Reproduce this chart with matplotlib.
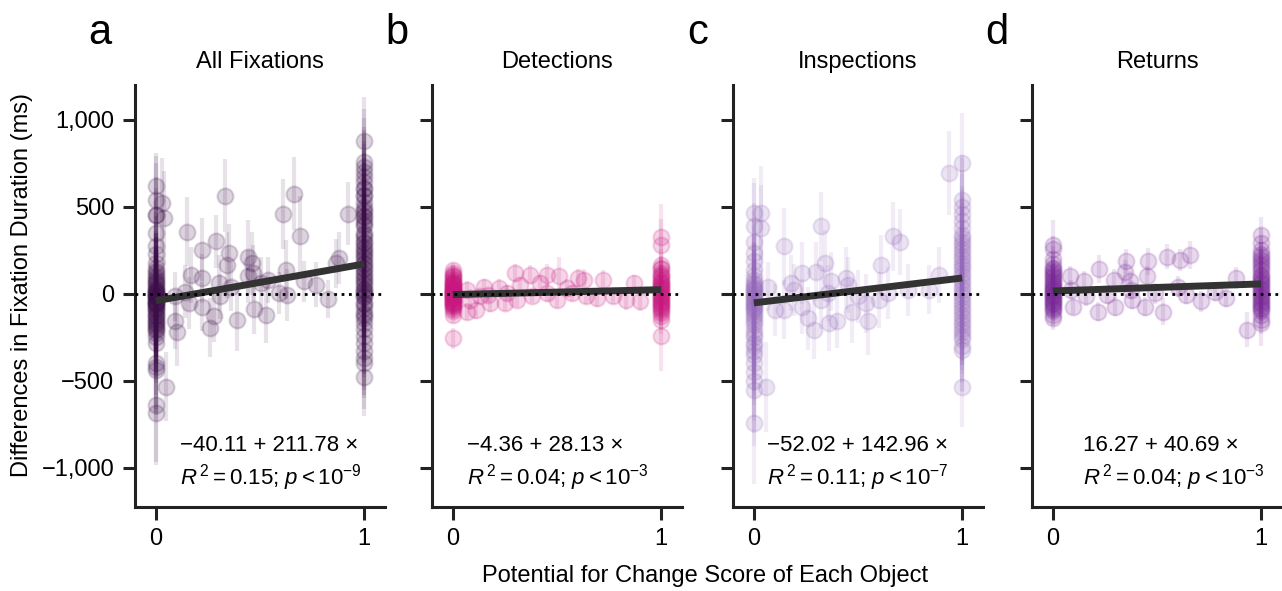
#! /usr/bin/env python3

import numpy as np
import matplotlib
matplotlib.use('Agg')
import matplotlib.pyplot as plt

# ---- data ----
titles = ['All Fixations', 'Detections', 'Inspections', 'Returns']
letters = ['a', 'b', 'c', 'd']
colors = ['#3c0d49', '#c8187f', '#9468ba', '#7a2898']
intercepts = [-40.11, -4.36, -52.02, 16.27]
slopes = [211.78, 28.13, 142.96, 40.69]
r2_text = ['0.15', '0.04', '0.11', '0.04']
p_exp = ['-9', '-3', '-7', '-3']

# All Fixations
a_x0_y = [617, 540, 454, 452, 349, 272, 230, 176, 150, 119, 100, 80, 60, 42, 30, 15, 4, -5, -15, -25,
          -34, -45, -55, -73, -90, -111, -130, -149, -170, -188, -210, -226, -250, -283, -398, -420, -437, -638, -686,
          130, 90, 70, 50, 20, 10, -10, -20, -40, -60, -65, -80, -100, -120, -140, -160, -180, -200, 5, -50]
a_x0_err = [190, 250, 220, 300, 260, 200, 180, 240, 300, 210, 260, 230, 190, 280, 320, 250, 210, 270, 230, 300,
            260, 220, 280, 240, 310, 250, 200, 270, 230, 290, 250, 220, 260, 300, 280, 240, 260, 330, 300,
            220, 260, 240, 280, 230, 250, 270, 240, 260, 230, 280, 250, 270, 240, 260, 230, 280, 250, 240, 260]
a_x1_y = [880, 760, 730, 700, 670, 640, 610, 570, 530, 500, 470, 450, 420, 390, 350, 320, 290, 260, 230, 200,
          170, 140, 110, 80, 50, 20, 0, -20, -50, -80, -110, -140, -170, -200, -240, -280, -330, -370, -400, -480,
          600, 560, 480, 440, 400, 340, 300, 270, 240, 210, 180, 150, 120, 90, 60, 30, 10, -10, -60, -120]
a_x1_err = [250, 300, 280, 260, 240, 300, 270, 250, 230, 280, 260, 240, 300, 270, 250, 230, 260, 280, 240, 270,
            250, 230, 260, 280, 240, 270, 250, 230, 260, 240, 270, 250, 230, 260, 240, 270, 250, 230, 260, 220,
            260, 250, 270, 240, 260, 250, 270, 240, 260, 250, 270, 240, 260, 250, 270, 240, 260, 250, 270, 240]
a_mid_x = [0.03, 0.04, 0.15, 0.22, 0.29, 0.33, 0.35, 0.34, 0.17, 0.22, 0.44, 0.46, 0.44, 0.61, 0.665, 0.69, 0.625,
           0.92, 0.88, 0.865, 0.77, 0.825, 0.63, 0.59, 0.53, 0.47, 0.39, 0.26, 0.28, 0.22, 0.16, 0.10, 0.09, 0.05,
           0.31, 0.305, 0.36, 0.505, 0.537, 0.71, 0.14, 0.09, 0.465]
a_mid_y = [521, 435, 358, 253, 301, 563, 234, 167, 109, 90, 214, 176, 100, 460, 575, 330, 138, 460, 205, 176,
           52, -30, -6, 4, -121, -88, -149, -194, -126, -73, -54, -222, -159, -533, -15, 61, 42, 61, 80, 71,
           13, -15, 119]
a_mid_err = [260, 270, 200, 180, 150, 210, 170, 190, 160, 140, 210, 180, 150, 200, 210, 230, 170, 180, 150, 140,
             130, 110, 150, 120, 160, 140, 180, 170, 150, 140, 150, 190, 160, 200, 130, 160, 140, 150, 130, 120,
             150, 140, 160]

# Detections
b_x0_y = [135, 110, 95, 80, 70, 60, 50, 40, 30, 22, 15, 8, 0, -8, -15, -22, -30, -40, -50, -60, -70, -85, -100,
          -120, -255,
          120, 100, 85, 65, 55, 45, 35, 25, 18, 10, 3, -3, -12, -18, -26, -35, -45, -55, -65, -78]
b_x0_err = [40, 50, 45, 40, 50, 45, 40, 35, 45, 40, 50, 45, 40, 35, 45, 50, 40, 45, 50, 40, 45, 50, 40, 45, 60,
            45, 40, 50, 45, 40, 50, 45, 40, 50, 45, 40, 50, 45, 40, 50, 45, 40, 50, 45, 40]
b_x1_y = [329, 282, 167, 140, 120, 100, 80, 65, 50, 35, 20, 5, -10, -25, -40, -55, -70, -90, -110, -130, -150, -245,
          150, 110, 90, 70, 55, 40, 25, 10, -5, -20, -35, -50, -65, -80, -100]
b_x1_err = [190, 150, 90, 80, 70, 60, 60, 55, 50, 50, 45, 50, 55, 60, 50, 55, 60, 65, 70, 75, 80, 200,
            60, 55, 60, 55, 60, 55, 60, 55, 60, 55, 60, 55, 60, 55, 60]
b_mid_x = [0.07, 0.08, 0.07, 0.15, 0.17, 0.18, 0.22, 0.25, 0.30, 0.32, 0.37, 0.38, 0.42, 0.45, 0.51, 0.50, 0.55,
           0.60, 0.63, 0.64, 0.69, 0.72, 0.77, 0.83, 0.87, 0.90, 0.31, 0.13, 0.45, 0.57, 0.11, 0.26]
b_mid_y = [23, -34, -102, 42, -6, -54, 33, -54, 119, 52, 109, -15, 61, 109, 100, -34, 33, 90, 80, -15,
           -25, 80, -15, -34, 61, -44, -34, -15, 4, 4, -92, 4]
b_mid_err = [50, 60, 50, 45, 40, 50, 55, 45, 50, 45, 55, 40, 50, 60, 110, 45, 50, 55, 60, 45,
             50, 55, 45, 60, 50, 55, 40, 45, 50, 45, 55, 45]

# Inspections
c_x0_y = [464, 387, 300, 235, 190, 138, 100, 61, 40, 20, 0, -20, -40, -60, -80, -100, -130, -160, -207, -250,
          -300, -350, -400, -450, -500, -552, -743,
          80, 50, 30, 10, -10, -30, -50, -70, -90, -115, -145, -180, -230, -280, -330]
c_x0_err = [200, 250, 220, 200, 230, 210, 240, 220, 260, 230, 250, 270, 240, 260, 280, 250, 270, 300, 280, 300,
            260, 290, 310, 280, 300, 320, 350,
            250, 240, 260, 250, 240, 260, 250, 240, 260, 250, 240, 260, 250, 240, 260]
c_x1_y = [751, 540, 500, 460, 420, 380, 340, 300, 260, 220, 180, 140, 100, 60, 20, -20, -60, -100, -140, -180,
          -220, -260, -300, -322, -533,
          320, 280, 240, 200, 160, 120, 80, 40, 0, -40, -80, -120, -160, -200, -240]
c_x1_err = [290, 260, 280, 250, 270, 240, 260, 250, 230, 260, 240, 250, 230, 260, 240, 250, 230, 240, 250, 230,
            240, 250, 260, 240, 230,
            250, 240, 260, 250, 240, 260, 250, 240, 260, 250, 240, 260, 250, 240, 260]
c_mid_x = [0.146, 0.32, 0.23, 0.30, 0.34, 0.18, 0.195, 0.37, 0.44, 0.45, 0.61, 0.67, 0.70, 0.89, 0.10, 0.146,
           0.23, 0.26, 0.29, 0.36, 0.40, 0.32, 0.356, 0.47, 0.54, 0.55, 0.50, 0.60, 0.645, 0.84, 0.74, 0.066,
           0.935, 0.035, 0.035, 0.06]
c_mid_y = [272, 387, 119, 128, 176, 61, 23, 71, 90, 52, 167, 330, 300, 109, -92, -92, -73, -140, -207, -169,
           -159, -34, 4, -102, -54, -159, -15, -34, 4, 23, 23, 42, 694, 464, 377, -534]
c_mid_err = [220, 200, 180, 170, 190, 160, 150, 170, 180, 160, 170, 200, 190, 160, 150, 170, 160, 180, 170, 160,
             150, 170, 160, 180, 170, 190, 150, 160, 150, 140, 150, 140, 240, 270, 250, 260]

# Returns
d_x0_y = [282, 260, 200, 170, 140, 120, 100, 80, 60, 45, 30, 15, 0, -15, -30, -45, -60, -80, -100, -120, -140,
          90, 70, 50, 35, 20, 8, -5, -20, -35, -50, -70, -90, 110, 130, 150]
d_x0_err = [140, 70, 75, 70, 65, 60, 70, 65, 60, 55, 60, 65, 60, 55, 60, 65, 60, 55, 60, 65, 70,
            60, 65, 60, 55, 60, 65, 60, 55, 60, 65, 60, 55, 60, 65, 60]
d_x1_y = [339, 290, 250, 220, 190, 160, 130, 100, 80, 60, 40, 20, 0, -20, -40, -60, -80, -100, -120, -150, -169,
          230, 200, 170, 140, 110, 90, 70, 50, 30, 10, -10, -30, -50, -70, -90]
d_x1_err = [100, 90, 80, 75, 70, 65, 70, 65, 60, 65, 60, 55, 60, 65, 60, 70, 65, 70, 75, 80, 130,
            65, 60, 65, 70, 65, 60, 65, 70, 65, 60, 65, 70, 65, 60, 65]
d_mid_x = [0.08, 0.087, 0.095, 0.15, 0.16, 0.22, 0.215, 0.295, 0.30, 0.35, 0.345, 0.37, 0.38, 0.455, 0.45,
           0.44, 0.53, 0.55, 0.61, 0.66, 0.60, 0.64, 0.71, 0.78, 0.83, 0.88, 0.93, 0.26, 0.49, 0.375]
d_mid_y = [100, 23, -73, 71, -15, 142, -102, 80, -73, 186, 128, 71, -34, 186, 100, -73, -102, 214, 195, 224,
           42, -6, -44, 13, -25, 90, -207, -6, 4, 23]
d_mid_err = [60, 55, 50, 60, 55, 80, 55, 60, 55, 70, 65, 60, 55, 75, 60, 55, 80, 70, 65, 80,
             60, 55, 60, 55, 50, 65, 100, 55, 60, 55]

panels = [
    (a_x0_y, a_x0_err, a_x1_y, a_x1_err, a_mid_x, a_mid_y, a_mid_err),
    (b_x0_y, b_x0_err, b_x1_y, b_x1_err, b_mid_x, b_mid_y, b_mid_err),
    (c_x0_y, c_x0_err, c_x1_y, c_x1_err, c_mid_x, c_mid_y, c_mid_err),
    (d_x0_y, d_x0_err, d_x1_y, d_x1_err, d_mid_x, d_mid_y, d_mid_err),
]
eq_pos = [0.18, 0.14, 0.136, 0.205]

# ---- style ----
fam = ['Liberation Sans', 'DejaVu Sans']
plt.rcParams['font.family'] = fam
plt.rcParams['mathtext.fontset'] = 'custom'
plt.rcParams['mathtext.rm'] = 'Liberation Sans'
plt.rcParams['mathtext.it'] = 'Liberation Sans:italic'
plt.rcParams['mathtext.sf'] = 'Liberation Sans'
plt.rcParams['axes.unicode_minus'] = True

W, H = 1282, 591
fig = plt.figure(figsize=(W / 100, H / 100), dpi=100)
lefts = [135, 432, 733, 1032]

for i, (x0y, x0e, x1y, x1e, mx, my, me) in enumerate(panels):
    ax = fig.add_axes([lefts[i] / W, (H - 507) / H, 250 / W, 422 / H])
    col = colors[i]
    xs = np.concatenate([np.zeros(len(x0y)), np.array(mx), np.ones(len(x1y))])
    ys = np.concatenate([x0y, my, x1y])
    es = np.concatenate([x0e, me, x1e])

    ax.errorbar(xs, ys, yerr=es, fmt='none', ecolor=col, elinewidth=3, alpha=0.12, zorder=1)
    ax.plot(xs, ys, 'o', ms=11.5, mfc=col, mec=col, mew=1.5, alpha=0.18, zorder=2)

    # regression line
    lx = np.array([0.0, 1.0])
    ax.plot(lx, intercepts[i] + slopes[i] * lx, color='#333333', lw=5, solid_capstyle='butt', zorder=3)
    ax.axhline(0, color='black', ls=':', lw=2, zorder=4)

    ax.set_xlim(-0.1, 1.1)
    ax.set_ylim(-1225, 1200)
    ax.set_xticks([0, 1])
    ax.set_xticklabels(['0', '1'])
    ax.set_yticks([-1000, -500, 0, 500, 1000])
    if i == 0:
        ax.set_yticklabels(['\u22121,000', '\u2212500', '0', '500', '1,000'])
    else:
        ax.set_yticklabels([])
    for s in ['top', 'right']:
        ax.spines[s].set_visible(False)
    for s in ['left', 'bottom']:
        ax.spines[s].set_linewidth(2.2)
        ax.spines[s].set_color('#222222')
    ax.tick_params(length=9, width=2.2, color='#222222', labelsize=17, pad=6)
    ax.set_title(titles[i], fontsize=17, pad=12)

    sign = '\u2212' if intercepts[i] < 0 else ''
    ax.text(eq_pos[i], 0.145, '%s%.2f + %.2f \u00d7' % (sign, abs(intercepts[i]), slopes[i]),
            transform=ax.transAxes, fontsize=16, va='center', ha='left')
    ax.text(eq_pos[i], 0.07, r'$R^{\,2} = %s$; $p < 10^{%s}$' % (r2_text[i], p_exp[i]),
            transform=ax.transAxes, fontsize=16, va='center', ha='left')

    fig.text((lefts[i] - 35) / W, 1 - 44 / H, letters[i], fontsize=30, ha='center', va='baseline')

fig.text(22 / W, 1 - 285 / H, 'Differences in Fixation Duration (ms)', rotation=90,
         fontsize=17, ha='center', va='center')
fig.text(705 / W, 1 - 576 / H, 'Potential for Change Score of Each Object', fontsize=17,
         ha='center', va='center')

fig.savefig('out.png', dpi=100)
plt.close('all')
